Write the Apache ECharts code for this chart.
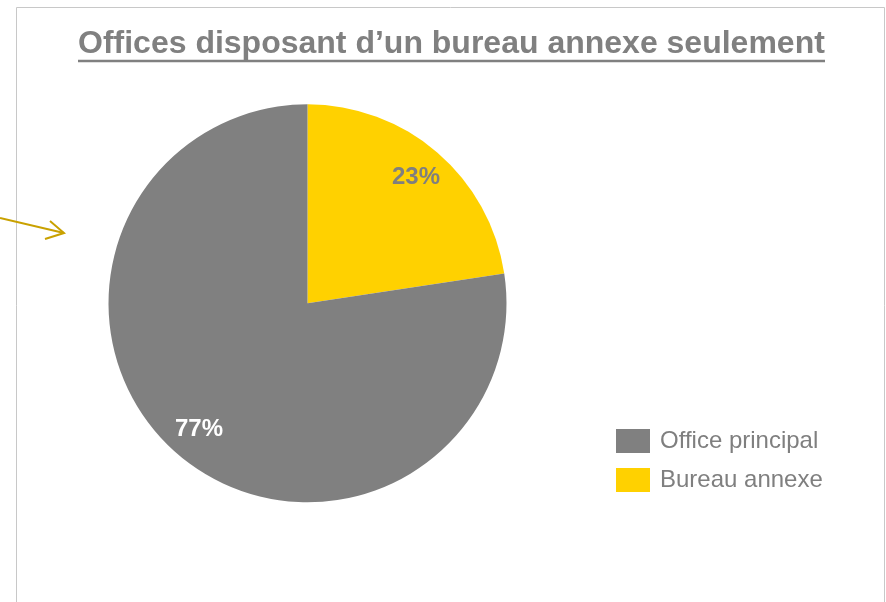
<!DOCTYPE html>
<html>
<head>
<meta charset="utf-8">
<script src="https://cdn.jsdelivr.net/npm/echarts@6/dist/echarts.min.js"></script>
<style>
html,body{margin:0;padding:0;background:#fff;}
#c{width:886px;height:602px;}
</style>
</head>
<body>
<div id="c"></div>
<script>
const titleText = "Offices disposant d’un bureau annexe seulement";
const categories = ["Bureau annexe", "Office principal"];
const values = [22.6, 77.4];
const colors = ["#FFD100", "#808080"];
const labelColors = ["#7F7F7F", "#FFFFFF"];
const legendOrder = ["Office principal", "Bureau annexe"];

const chart = echarts.init(document.getElementById('c'), null, {renderer: 'canvas'});
const font = "'Liberation Sans', Arial, sans-serif";

const pieData = categories.map((n, i) => ({
  name: n, value: values[i], itemStyle: {color: colors[i]}
}));
const labelData = categories.map((n, i) => ({
  name: n, value: values[i],
  itemStyle: {color: 'rgba(0,0,0,0)'},
  label: {color: labelColors[i]}
}));

chart.setOption({
  backgroundColor: '#ffffff',
  animation: false,
  title: {
    text: titleText,
    left: 78,
    top: 28,
    padding: 0,
    textStyle: {fontFamily: font, fontSize: 32, fontWeight: 'bold', color: '#808080'}
  },
  legend: {
    data: legendOrder,
    orient: 'vertical',
    left: 616,
    top: 429,
    padding: 0,
    icon: 'rect',
    itemWidth: 34,
    itemHeight: 24,
    itemGap: 15,
    textStyle: {fontFamily: font, fontSize: 24, color: '#7F7F7F', padding: [2, 0, 0, 5]},
    selectedMode: false
  },
  graphic: [
    {type: 'rect', shape: {x: 16.5, y: 7.5, width: 868, height: 700}, style: {fill: 'none', stroke: '#C8C8C8', lineWidth: 1}, z: -1},
    {type: 'line', shape: {x1: 78, y1: 61, x2: 825, y2: 61}, style: {stroke: '#808080', lineWidth: 2.5}},
    {type: 'polyline', shape: {points: [[0, 218], [64, 233]]}, style: {stroke: '#C9A100', lineWidth: 2, fill: 'none'}},
    {type: 'polyline', shape: {points: [[50, 221], [64, 233], [45, 239]]}, style: {stroke: '#C9A100', lineWidth: 2, fill: 'none'}}
  ],
  series: [
    {
      type: 'pie',
      center: [307.5, 303.3],
      radius: [0, 199],
      startAngle: 90,
      clockwise: true,
      silent: true,
      label: {show: false},
      labelLine: {show: false},
      itemStyle: {borderWidth: 0},
      data: pieData
    },
    {
      type: 'pie',
      center: [307.5, 303.3],
      radius: [128, 199],
      startAngle: 90,
      clockwise: true,
      silent: true,
      legendHoverLink: false,
      label: {
        show: true,
        position: 'inside',
        fontFamily: font,
        fontSize: 24,
        fontWeight: 'bold',
        formatter: p => Math.round(p.percent) + '%'
      },
      labelLine: {show: false},
      itemStyle: {borderWidth: 0},
      data: labelData
    }
  ]
});
</script>
</body>
</html>
